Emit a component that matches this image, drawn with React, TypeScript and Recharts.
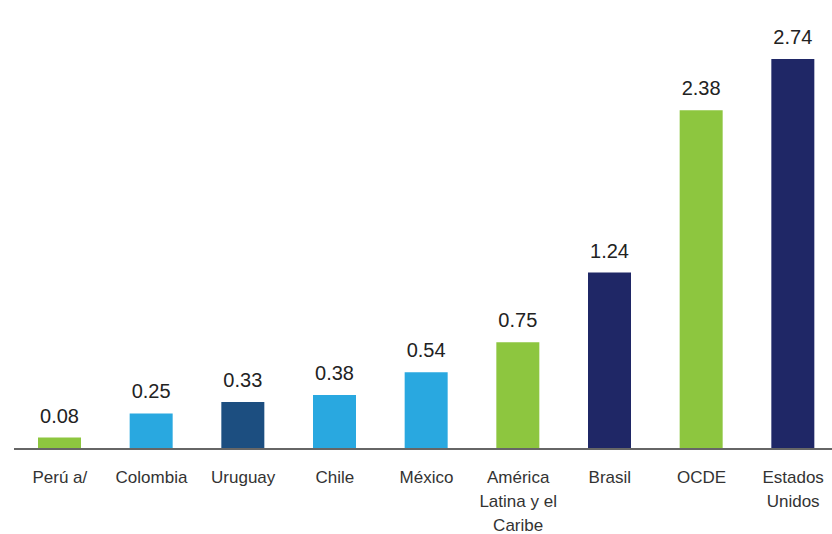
import React from "react";
import { BarChart, Bar, XAxis, YAxis, Cell, LabelList } from "recharts";

const categories = [
  "Perú a/",
  "Colombia",
  "Uruguay",
  "Chile",
  "México",
  "América\nLatina y el\nCaribe",
  "Brasil",
  "OCDE",
  "Estados\nUnidos",
];
const values = [0.08, 0.25, 0.33, 0.38, 0.54, 0.75, 1.24, 2.38, 2.74];
const colors = [
  "#8dc63f",
  "#29a8e0",
  "#1c4e80",
  "#29a8e0",
  "#29a8e0",
  "#8dc63f",
  "#1f2766",
  "#8dc63f",
  "#1f2766",
];

const data = categories.map((c, i) => ({ name: c, value: values[i] }));

const MultiTick = (props: any) => {
  const { x, y, payload } = props;
  const lines = String(payload.value).split("\n");
  return (
    <text
      x={x}
      y={y}
      textAnchor="middle"
      fontSize={17}
      fill="#333"
      fontFamily="Liberation Sans, Arial, sans-serif"
    >
      {lines.map((l, i) => (
        <tspan key={i} x={x} dy={i === 0 ? 34 : 24}>
          {l}
        </tspan>
      ))}
    </text>
  );
};

export default function App() {
  return (
    <div
      style={{
        position: "absolute",
        left: 0,
        top: 0,
        width: 832,
        height: 534,
        overflow: "hidden",
        background: "#fff",
      }}
    >
      <BarChart
        width={850}
        height={534}
        data={data}
        margin={{ top: 22, right: 11, left: 14, bottom: 0 }}
      >
        <XAxis
          dataKey="name"
          interval={0}
          tickLine={false}
          tickSize={0}
          tickMargin={0}
          height={85}
          axisLine={{ stroke: "#666", strokeWidth: 2 }}
          tick={<MultiTick />}
        />
        <YAxis hide domain={[0, 3]} />
        <Bar dataKey="value" barSize={43} isAnimationActive={false}>
          {data.map((d, i) => (
            <Cell key={i} fill={colors[i]} />
          ))}
          <LabelList
            dataKey="value"
            position="top"
            offset={15}
            fontSize={20}
            fill="#222"
            fontFamily="Liberation Sans, Arial, sans-serif"
            formatter={(v: any) => Number(v).toFixed(2)}
          />
        </Bar>
      </BarChart>
    </div>
  );
}
